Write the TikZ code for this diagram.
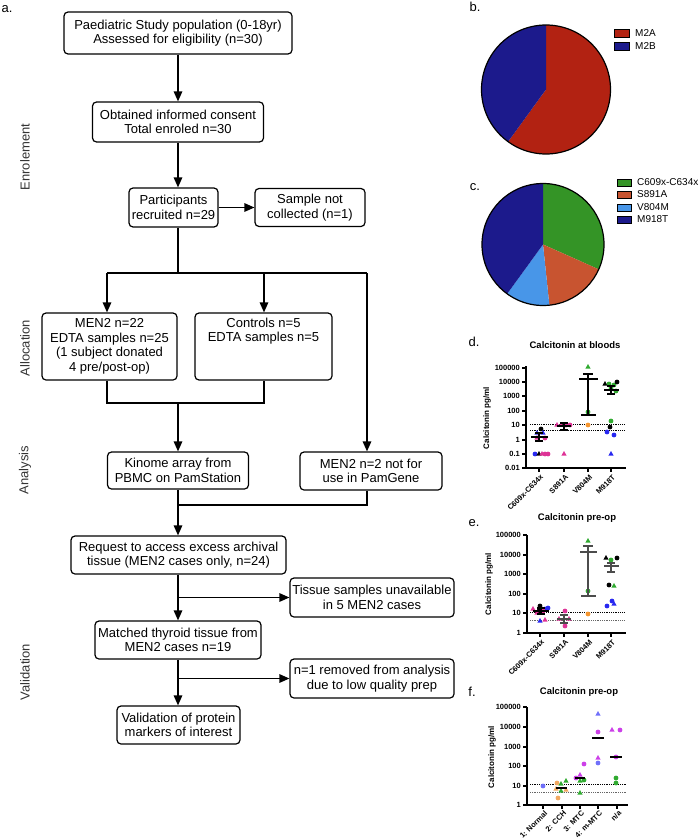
\documentclass[tikz,border=0pt]{standalone}
\usepackage{fontspec}
\setmainfont{Liberation Sans}
\usetikzlibrary{arrows.meta}

\definecolor{mtwoa}{RGB}{178,34,18}
\definecolor{mtwob}{RGB}{28,26,140}
\definecolor{pgreen}{RGB}{52,148,38}
\definecolor{porange}{RGB}{200,84,48}
\definecolor{plight}{RGB}{72,150,232}
\definecolor{sblue}{RGB}{40,40,240}
\definecolor{spink}{RGB}{222,50,150}
\definecolor{sgreen}{RGB}{48,170,48}
\definecolor{sorange}{RGB}{246,150,46}
\definecolor{fblue}{RGB}{112,112,250}
\definecolor{fpink}{RGB}{204,64,232}
\definecolor{forange}{RGB}{242,168,96}

\newcommand{\ptc}[3]{\fill[#1] (#2,#3) circle[radius=2.4pt];}
\newcommand{\ptt}[3]{\fill[#1] (#2,#3) +(0pt,3pt) -- +(2.6pt,-1.6pt) -- +(-2.6pt,-1.6pt) -- cycle;}

\begin{document}
\begin{tikzpicture}[x=1pt, y=-1pt]
\tikzstyle{boxStyle}=[draw, rounded corners=4pt, line width=1.2pt, align=center, inner sep=1pt, font=\fontsize{13}{14.5}\selectfont]
\tikzstyle{lineStyle}=[line width=1.4pt]
\tikzstyle{arrowStyle}=[line width=1.4pt, -{Triangle[length=10pt, width=8.5pt]}]
\tikzstyle{sideStyle}=[rotate=90, font=\fontsize{13}{14}\selectfont, text=black!80]
\tikzstyle{panelStyle}=[font=\fontsize{13}{14}\selectfont, inner sep=0pt]
\tikzstyle{legStyle}=[font=\fontsize{10}{11}\selectfont, anchor=west, inner sep=0pt]
\tikzstyle{titleStyle}=[font=\fontsize{9.5}{10}\selectfont\bfseries, inner sep=0pt]
\tikzstyle{tickStyle}=[font=\fontsize{7.5}{8}\selectfont\bfseries, anchor=east, inner sep=0pt]
\tikzstyle{catStyle}=[font=\fontsize{7.5}{8}\selectfont\bfseries, anchor=east, rotate=45, inner sep=0pt]
\tikzstyle{ylabStyle}=[font=\fontsize{8}{9}\selectfont\bfseries, rotate=90, inner sep=0pt]
\tikzstyle{axisStyle}=[line width=1.1pt]
\tikzstyle{refStyle}=[line width=0.8pt, densely dotted]
\tikzstyle{barStyle}=[line width=1.1pt]

\useasboundingbox (0,0) rectangle (700,840);

% a. flow of participants
\node[panelStyle] (pa) at (7,9) {a.};
\node[sideStyle] (enrol) at (25,157) {Enrolement};
\node[sideStyle] (alloc) at (25,348) {Allocation};
\node[sideStyle] (anal) at (25,470) {Analysis};
\node[sideStyle] (valid) at (25,672) {Validation};

\node[boxStyle, minimum width=228pt, minimum height=42pt] (pop) at (178,33) {Paediatric Study population (0-18yr)\\Assessed for eligibility (n=30)};
\node[boxStyle, minimum width=171pt, minimum height=40pt] (consent) at (178,122) {Obtained informed consent\\Total enroled n=30};
\node[boxStyle, minimum width=89pt, minimum height=39pt] (recruited) at (173.5,207.5) {Participants\\recruited n=29};
\node[boxStyle, minimum width=110pt, minimum height=38pt] (notcoll) at (310,207.5) {Sample not\\collected (n=1)};
\node[boxStyle, minimum width=135pt, minimum height=67pt] (men2) at (109.5,346.5) {MEN2 n=22\\EDTA samples n=25\\(1 subject donated\\4 pre/post-op)};
\node[boxStyle, minimum width=137pt, minimum height=67pt] (controls) at (263.5,346.5) {Controls n=5\\EDTA samples n=5\\\strut\\\strut};
\node[boxStyle, minimum width=141pt, minimum height=37pt] (kinome) at (178,470.5) {Kinome array from\\PBMC on PamStation};
\node[boxStyle, minimum width=142pt, minimum height=38pt] (notpam) at (371,471) {MEN2 n=2 not for\\use in PamGene};
\node[boxStyle, minimum width=215pt, minimum height=38pt] (request) at (178.5,555) {Request to access excess archival\\tissue (MEN2 cases only, n=24)};
\node[boxStyle, minimum width=164pt, minimum height=39pt] (tissue) at (372,597.5) {Tissue samples unavailable\\in 5 MEN2 cases};
\node[boxStyle, minimum width=166pt, minimum height=38pt] (matched) at (178,640) {Matched thyroid tissue from\\MEN2 cases n=19};
\node[boxStyle, minimum width=164pt, minimum height=39pt] (removed) at (372,678.5) {n=1 removed from analysis\\due to low quality prep};
\node[boxStyle, minimum width=123pt, minimum height=38pt] (markers) at (178.5,725) {Validation of protein\\markers of interest};

\coordinate (split) at (178,273);
\coordinate (splitL) at (107,273);
\coordinate (splitM) at (264,273);
\coordinate (splitR) at (367,273);
\coordinate (joinL) at (107,403);
\coordinate (joinM) at (178,403);
\coordinate (joinR) at (264,403);
\coordinate (joinP) at (367,505);
\coordinate (joinK) at (178,505);

\draw[arrowStyle] (pop.south) -- (consent.north);
\draw[arrowStyle] (consent.south) -- (consent.south |- recruited.north);
\draw[arrowStyle] (recruited.east) -- (notcoll.west);
\draw[lineStyle] (consent.south |- recruited.south) -- (split);
\draw[lineStyle] (splitL) -- (splitR);
\draw[arrowStyle] (splitL) -- (splitL |- men2.north);
\draw[arrowStyle] (splitM) -- (splitM |- controls.north);
\draw[arrowStyle] (splitR) -- (splitR |- notpam.north);
\draw[lineStyle] (joinL |- men2.south) -- (joinL) -- (joinR) -- (joinR |- controls.south);
\draw[arrowStyle] (joinM) -- (kinome.north);
\draw[lineStyle] (joinP |- notpam.south) -- (joinP) -- (joinK);
\draw[arrowStyle] (kinome.south) -- (kinome.south |- request.north);
\draw[arrowStyle] (request.south -| matched.north) -- (matched.north);
\draw[arrowStyle] (matched.north |- tissue.west) -- (tissue.west);
\draw[arrowStyle] (matched.south) -- (matched.south |- markers.north);
\draw[arrowStyle] (matched.south |- removed.west) -- (removed.west);

% b. pie of subtypes
\node[panelStyle] (pb) at (475,7) {b.};
\coordinate (pieb) at (546,89.5);
\fill[mtwoa] (pieb) -- ++(90:64.5pt) arc[start angle=90, end angle=-126, radius=64.5pt] -- cycle;
\fill[mtwob] (pieb) -- ++(90:64.5pt) arc[start angle=90, end angle=234, radius=64.5pt] -- cycle;
\draw[line width=1.2pt] (pieb) circle[radius=64.5pt];
\draw[fill=mtwoa, line width=0.9pt] (614,29) rectangle (629,37);
\draw[fill=mtwob, line width=0.9pt] (614,42) rectangle (629,50);
\node[legStyle] (legA) at (635,33) {M2A};
\node[legStyle] (legB) at (635,46) {M2B};

% c. pie of mutations
\node[panelStyle] (pc) at (475,187) {c.};
\coordinate (piec) at (543,244.5);
\fill[pgreen] (piec) -- ++(90:61pt) arc[start angle=90, end angle=-24, radius=61pt] -- cycle;
\fill[porange] (piec) -- ++(-24:61pt) arc[start angle=-24, end angle=-84, radius=61pt] -- cycle;
\fill[plight] (piec) -- ++(-84:61pt) arc[start angle=-84, end angle=-126, radius=61pt] -- cycle;
\fill[mtwob] (piec) -- ++(-126:61pt) arc[start angle=-126, end angle=-270, radius=61pt] -- cycle;
\draw[line width=1.2pt] (piec) circle[radius=61pt];
\draw[fill=pgreen, line width=0.9pt] (617,179) rectangle (631,186);
\draw[fill=porange, line width=0.9pt] (617,191) rectangle (631,198);
\draw[fill=plight, line width=0.9pt] (617,204) rectangle (631,211);
\draw[fill=mtwob, line width=0.9pt] (617,216) rectangle (631,223);
\node[legStyle] (legC) at (637,182.5) {C609x-C634x};
\node[legStyle] (legD) at (637,194.5) {S891A};
\node[legStyle] (legE) at (637,207.5) {V804M};
\node[legStyle] (legF) at (637,219.5) {M918T};

% d. calcitonin at bloods
\node[panelStyle] (pd) at (474,342) {d.};
\node[titleStyle] (dtitle) at (575,345) {Calcitonin at bloods};
\node[ylabStyle] (dylab) at (487,418) {Calcitonin pg/ml};
\draw[axisStyle] (526,366) -- (526,468) -- (626,468);
\foreach \lab/\yy in {100000/368, 10000/382, 1000/396, 100/411, 10/425, 1/440, 0.1/454, 0.01/468} {
  \draw[axisStyle] (522,\yy) -- (526,\yy);
  \node[tickStyle] (d\yy) at (520,\yy) {\lab};
}
\foreach \xx in {539, 564, 588, 611} {
  \draw[axisStyle] (\xx,468) -- (\xx,472);
}
\node[catStyle] (dcA) at (542,476) {C609x-C634x};
\node[catStyle] (dcB) at (567,476) {S891A};
\node[catStyle] (dcC) at (591,476) {V804M};
\node[catStyle] (dcD) at (614,476) {M918T};
\draw[refStyle] (530,424) -- (625,424);
\draw[refStyle] (530,430) -- (625,430);
\ptc{black}{541}{429}
\ptt{sblue}{537}{433} \ptt{sblue}{543}{433}
\ptt{spink}{537}{438} \ptc{spink}{545}{438}
\ptc{sblue}{535}{454} \ptt{black}{539}{454} \ptt{spink}{542}{454} \ptc{spink}{545}{454} \ptc{spink}{548}{454}
\draw[barStyle] (531,437) -- (548,437);
\draw[barStyle] (539,433) -- (539,441) (535,433) -- (543,433) (535,441) -- (543,441);
\ptt{spink}{557}{425} \ptt{spink}{561}{425} \ptc{spink}{566}{425} \ptc{spink}{570}{425}
\ptt{spink}{564}{454}
\draw[barStyle] (557,426) -- (571,426);
\draw[barStyle] (564,423) -- (564,430) (560,423) -- (568,423) (560,430) -- (568,430);
\ptt{sgreen}{588}{367} \ptc{sgreen}{588}{412} \ptc{sorange}{588}{425}
\draw[barStyle] (588,374) -- (588,415) (583,374) -- (593,374) (579,379) -- (598,379) (581,415) -- (596,415);
\ptt{black}{605}{384} \ptc{sgreen}{609}{384} \ptc{sgreen}{614}{385} \ptc{black}{617}{382}
\ptc{sgreen}{611}{388} \ptc{sgreen}{616}{391}
\draw[barStyle] (604,390) -- (619,390);
\draw[barStyle] (611,386) -- (611,394) (607,386) -- (615,386) (607,394) -- (615,394);
\ptc{sgreen}{611}{421} \ptc{black}{610}{427} \ptc{sblue}{607}{432} \ptc{sblue}{614}{435}
\ptt{sblue}{611}{454}

% e. calcitonin pre-op by mutation
\node[panelStyle] (pe) at (474,523) {e.};
\node[titleStyle] (etitle) at (577,518) {Calcitonin pre-op};
\node[ylabStyle] (eylab) at (489,584) {Calcitonin pg/ml};
\draw[axisStyle] (527,535) -- (527,633) -- (626,633);
\foreach \lab/\yy in {100000/535, 10000/555, 1000/574, 100/594, 10/613, 1/633} {
  \draw[axisStyle] (523,\yy) -- (527,\yy);
  \node[tickStyle] (e\yy) at (521,\yy) {\lab};
}
\foreach \xx in {540, 564, 588, 611} {
  \draw[axisStyle] (\xx,633) -- (\xx,637);
}
\node[catStyle] (ecA) at (543,641) {C609x-C634x};
\node[catStyle] (ecB) at (567,641) {S891A};
\node[catStyle] (ecC) at (591,641) {V804M};
\node[catStyle] (ecD) at (614,641) {M918T};
\draw[refStyle] (530,612) -- (625,612);
\draw[refStyle, black!60] (530,620) -- (625,620);
\ptc{black}{540}{606} \ptc{black}{539}{611} \ptt{spink}{533}{609} \ptt{spink}{537}{613}
\ptc{sblue}{545}{609} \ptc{sblue}{548}{608} \ptc{spink}{543}{611}
\ptt{sblue}{540}{621} \ptt{spink}{545}{620}
\draw[barStyle] (533,611) -- (549,611);
\draw[barStyle] (541,608) -- (541,614) (537,608) -- (545,608) (537,614) -- (545,614);
\ptc{spink}{565}{611} \ptc{spink}{565}{626} \ptt{spink}{559}{619} \ptt{spink}{569}{619}
\draw[barStyle, black!70] (557,619) -- (571,619);
\draw[barStyle, black!70] (564,615) -- (564,623) (560,615) -- (568,615) (560,623) -- (568,623);
\ptt{sgreen}{588}{541} \ptc{sgreen}{588}{591} \ptc{sorange}{588}{614}
\draw[barStyle, black!70] (588,546) -- (588,596) (583,546) -- (593,546) (580,552) -- (597,552) (581,596) -- (596,596);
\ptt{black}{606}{558} \ptc{sgreen}{611}{560} \ptc{black}{617}{558}
\ptc{black}{609}{585} \ptt{sgreen}{614}{586}
\ptc{sblue}{612}{601} \ptc{sblue}{607}{606} \ptt{sblue}{614}{604}
\draw[barStyle, black!70] (604,566) -- (619,566);
\draw[barStyle, black!70] (611,563) -- (611,572) (607,563) -- (615,563) (607,572) -- (615,572);

% f. calcitonin pre-op by histology
\node[panelStyle] (pf) at (472,692) {f.};
\node[titleStyle] (ftitle) at (579,692) {Calcitonin pre-op};
\node[ylabStyle] (fylab) at (492,757) {Calcitonin pg/ml};
\draw[axisStyle] (527,707) -- (527,805) -- (628,805);
\foreach \lab/\yy in {100000/707, 10000/727, 1000/747, 100/766, 10/786, 1/805} {
  \draw[axisStyle] (523,\yy) -- (527,\yy);
  \node[tickStyle] (f\yy) at (521,\yy) {\lab};
}
\foreach \xx in {543, 562, 580, 598, 617} {
  \draw[axisStyle] (\xx,805) -- (\xx,809);
}
\node[catStyle] (fcA) at (546,812) {1: Normal};
\node[catStyle] (fcB) at (565,812) {2: CCH};
\node[catStyle] (fcC) at (583,812) {3: MTC};
\node[catStyle] (fcD) at (601,812) {4: m-MTC};
\node[catStyle] (fcE) at (620,812) {n/a};
\draw[refStyle] (530,784) -- (627,784);
\draw[refStyle, black!60] (530,792) -- (627,792);
\ptc{fblue}{543}{786}
\ptc{forange}{557}{783} \ptt{forange}{556}{789} \ptt{forange}{566}{790} \ptc{forange}{558}{798}
\ptt{sgreen}{561}{784} \ptt{sgreen}{566}{781} \ptt{sgreen}{561}{791}
\draw[barStyle] (556,788) -- (567,788);
\ptc{fpink}{584}{764} \ptt{fpink}{580}{775} \ptc{fpink}{576}{778}
\ptt{sgreen}{580}{781} \ptc{sgreen}{584}{780} \ptt{sgreen}{580}{793}
\draw[barStyle] (575,778) -- (585,778);
\ptt{fblue}{598}{714} \ptc{fpink}{598}{732} \ptt{fpink}{598}{758} \ptc{fblue}{598}{763}
\draw[barStyle] (592,738) -- (604,738);
\ptt{fpink}{612}{730} \ptc{fpink}{620}{730} \ptc{fpink}{616}{757}
\ptc{sgreen}{616}{778} \ptc{sgreen}{616}{783}
\draw[barStyle] (610,757) -- (622,757);
\end{tikzpicture}
\end{document}
